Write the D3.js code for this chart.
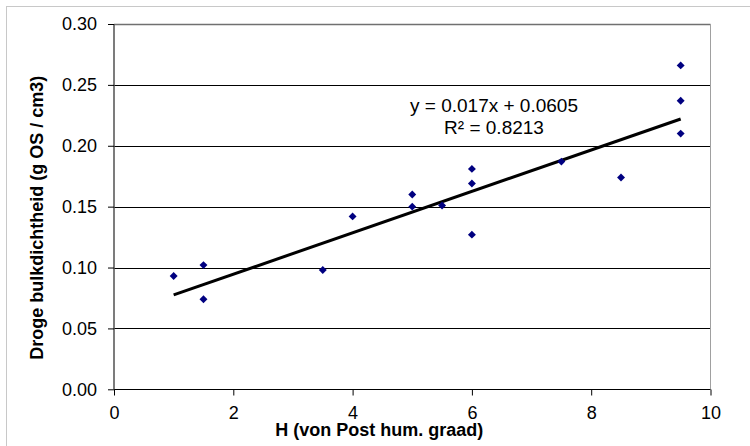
<!DOCTYPE html>
<html>
<head>
<meta charset="utf-8">
<script src="https://cdn.jsdelivr.net/npm/d3@7"></script>
<style>
  body { margin: 0; background: #fff; }
  svg text { font-family: "Liberation Sans", Arial, sans-serif; fill: #000; }
</style>
</head>
<body>
<div id="chart"></div>
<script>
// von Post humification degree vs dry bulk density
const hValues = [1.0, 1.5, 1.5, 3.5, 4.0, 5.0, 5.0, 5.5, 6.0, 6.0, 6.0, 7.5, 8.5, 9.5, 9.5, 9.5];
const densityValues = [0.093, 0.102, 0.074, 0.098, 0.142, 0.160, 0.150, 0.151, 0.181, 0.169, 0.127, 0.187, 0.174, 0.266, 0.237, 0.210];
const xTicks = [0, 2, 4, 6, 8, 10];
const yTicks = [0, 0.05, 0.10, 0.15, 0.20, 0.25, 0.30];
const trendCoef = [0.017, 0.0605]; // slope, intercept
const trendRange = [1.0, 9.5];
const trendLabels = ['y = 0.017x + 0.0605', 'R² = 0.8213'];

const width = 750, height = 446;
const plot = {left: 114, right: 710.5, top: 24, bottom: 389.3};

const svg = d3.select('#chart').append('svg')
  .attr('width', width)
  .attr('height', height);

// outer chart frame (cut off at right / bottom)
svg.append('rect')
  .attr('x', 6.5).attr('y', 6.5)
  .attr('width', 900).attr('height', 600)
  .attr('fill', 'none')
  .attr('stroke', '#c8c8c8');

const x = d3.scaleLinear().domain([0, 10]).range([plot.left, plot.right]);
const y = d3.scaleLinear().domain([0, 0.3]).range([plot.bottom, plot.top]);

// gridlines
svg.append('g')
  .selectAll('line')
  .data(yTicks.slice(1))
  .enter()
  .append('line')
  .attr('x1', plot.left).attr('x2', plot.right)
  .attr('y1', d => Math.round(y(d)) + 0.5)
  .attr('y2', d => Math.round(y(d)) + 0.5)
  .attr('stroke', (d, i) => i === yTicks.length - 2 ? '#707070' : '#000')
  .attr('stroke-width', (d, i) => i === yTicks.length - 2 ? 1.5 : 1);

// right border of plot area
svg.append('line')
  .attr('x1', plot.right).attr('x2', plot.right)
  .attr('y1', plot.top).attr('y2', plot.bottom)
  .attr('stroke', '#a0a0a0');

// axes
const xAxis = d3.axisBottom(x).tickValues(xTicks).tickSize(6).tickPadding(11).tickFormat(d3.format('d'));
const yAxis = d3.axisLeft(y).tickValues(yTicks).tickSize(6).tickPadding(11).tickFormat(d3.format('.2f'));

const xAxisGroup = svg.append('g')
  .attr('transform', `translate(0, ${Math.round(plot.bottom) + 0.5})`)
  .call(xAxis);
xAxisGroup.select('.domain').attr('d', `M${plot.left},0H${plot.right}`).attr('stroke', '#000');

const yAxisGroup = svg.append('g')
  .attr('transform', `translate(${plot.left}, 0)`)
  .call(yAxis);
yAxisGroup.select('.domain').attr('d', `M0,${plot.top}V${plot.bottom}`).attr('stroke', '#505050').attr('stroke-width', 1.5);

svg.selectAll('.tick text')
  .attr('font-size', 18)
  .attr('font-family', '"Liberation Sans", Arial, sans-serif')
  .attr('fill', '#000');
svg.selectAll('.tick line').attr('stroke', '#000');

// axis titles
svg.append('text')
  .attr('x', (plot.left + plot.right) / 2 - 33)
  .attr('y', 436)
  .attr('text-anchor', 'middle')
  .attr('font-size', 18)
  .attr('font-weight', 'bold')
  .text('H (von Post hum. graad)');

svg.append('text')
  .attr('transform', `translate(43, ${(plot.top + plot.bottom) / 2 + 11}) rotate(-90)`)
  .attr('text-anchor', 'middle')
  .attr('font-size', 18)
  .attr('font-weight', 'bold')
  .text('Droge bulkdichtheid (g OS / cm3)');

// trend line
svg.append('line')
  .attr('x1', x(trendRange[0]))
  .attr('y1', y(trendCoef[0] * trendRange[0] + trendCoef[1]))
  .attr('x2', x(trendRange[1]))
  .attr('y2', y(trendCoef[0] * trendRange[1] + trendCoef[1]))
  .attr('stroke', '#000')
  .attr('stroke-width', 3);

// data points
const diamond = d3.symbol().type(d3.symbolDiamond2).size(40);
svg.append('g')
  .selectAll('path')
  .data(hValues)
  .enter()
  .append('path')
  .attr('d', diamond)
  .attr('transform', (d, i) => `translate(${x(d)}, ${y(densityValues[i])})`)
  .attr('fill', '#000080');

// trendline label
svg.append('g')
  .selectAll('text')
  .data(trendLabels)
  .enter()
  .append('text')
  .attr('x', 494)
  .attr('y', (d, i) => 112 + i * 22)
  .attr('text-anchor', 'middle')
  .attr('font-size', 19)
  .text(d => d);
</script>
</body>
</html>
